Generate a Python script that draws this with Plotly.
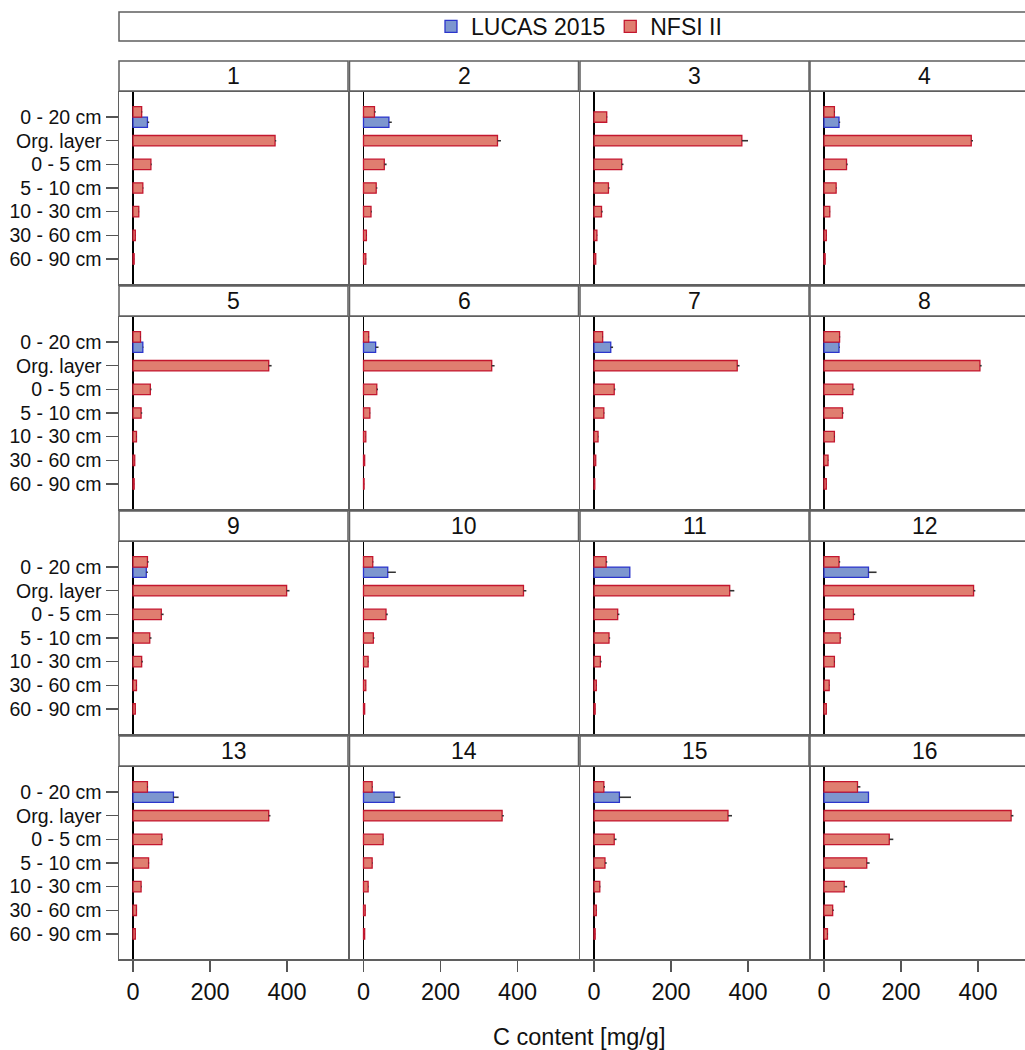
import plotly.graph_objects as go

# ---------------- data ----------------
categories = ["0 - 20 cm", "Org. layer", "0 - 5 cm", "5 - 10 cm",
              "10 - 30 cm", "30 - 60 cm", "60 - 90 cm"]
panel_labels = [str(i) for i in range(1, 17)]

nfsi_mean = [
    [22.5, 369, 46.5, 25.5, 15, 6, 3],
    [28.5, 348, 54, 33, 19.5, 7.5, 6],
    [33, 384, 72, 37.5, 19.5, 7.5, 4.5],
    [27, 382.5, 58.5, 31.5, 15, 6, 3],
    [19.5, 352.5, 45, 21, 9, 4.5, 3],
    [13.5, 333, 34.5, 16.5, 6, 3, 1.5],
    [22.5, 372, 52.5, 25.5, 10.5, 4.5, 2],
    [40.5, 405, 75, 48, 27, 10.5, 6],
    [37.5, 399, 73.5, 43.5, 22.5, 9, 6],
    [24, 415.5, 58.5, 25.5, 12, 6, 3],
    [31.5, 352.5, 61.5, 39, 16.5, 6, 3],
    [39, 388.5, 76.5, 42, 27, 13.5, 6],
    [37.5, 352.5, 75, 40.5, 21, 9, 6],
    [22.5, 360, 51, 22.5, 12, 4.5, 3],
    [25.5, 348, 52.5, 28.5, 15, 6, 3],
    [87, 486, 169.5, 111, 52.5, 22.5, 9],
]
nfsi_err = [
    [1.5, 3, 2, 1.5, 1, 0.5, 0.5],
    [3, 9, 6, 3, 2, 1, 1],
    [1.5, 16, 4.5, 3, 3, 1, 0.5],
    [1.5, 4.5, 3, 1.5, 1, 0.5, 0.5],
    [1, 7.5, 3, 3, 1, 0.5, 0.5],
    [1, 7.5, 3, 1, 0.5, 0.5, 0.5],
    [1, 6, 3, 1.5, 1, 0.5, 0.5],
    [1.5, 4.5, 4.5, 3, 1.5, 1, 0.5],
    [3, 7.5, 6, 4.5, 3, 1, 0.5],
    [1.5, 7.5, 4.5, 3, 1, 0.5, 0.5],
    [3, 12, 4.5, 3, 3, 1, 0.5],
    [3, 4.5, 4.5, 3, 1.5, 1, 0.5],
    [1.5, 4.5, 3, 1.5, 1.5, 0.5, 0.5],
    [1.5, 4.5, 1.5, 1.5, 1, 0.5, 0.5],
    [3, 10.5, 6, 4.5, 1.5, 1, 0.5],
    [7.5, 6, 10.5, 7.5, 7.5, 3, 1.5],
]
lucas_mean = [37.5, 66, None, 39, 25.5, 31.5, 43.5, 39,
              34.5, 63, 93, 115.5, 105, 79.5, 66, 115.5]
lucas_err = [4.5, 7.5, None, 3, 1.5, 7.5, 6, 2,
             4, 21, 0, 21, 13.5, 16.5, 30, 0]

x_ticks = [0, 200, 400]

# ---------------- styling / layout ----------------
W, H = 1025, 1050
FONT = "Arial, Liberation Sans, sans-serif"
RED_FILL, RED_LINE = "#E07E70", "#C3162E"
BLUE_FILL, BLUE_LINE = "#7D96CF", "#2B35CC"
BORDER = "#5f5f5f"

col_left = [119, 349.5, 580, 810]
col_w = [229, 229, 229, W - 810]
row_top = [92, 317, 542, 767]
row_h = 192
zero_off = 14          # px from panel left to x=0
ppu = 77 / 200         # pixels per data unit
bar_w = 0.44

def fx(p):
    return p / W

def fy(p):
    return 1 - p / H

fig = go.Figure()
shapes = []
annotations = []

for k in range(16):
    r, c = divmod(k, 4)
    idx = k + 1
    xa = "x" if idx == 1 else f"x{idx}"
    ya = "y" if idx == 1 else f"y{idx}"
    has_lucas = lucas_mean[k] is not None

    if has_lucas:
        fig.add_trace(go.Bar(
            x=[lucas_mean[k]], y=[categories[0]], orientation="h",
            width=[bar_w], offset=[0],
            marker=dict(color=BLUE_FILL, line=dict(color=BLUE_LINE, width=1.3)),
            error_x=dict(type="data", symmetric=False, array=[lucas_err[k]],
                         arrayminus=[0], color="#333", thickness=1.6, width=0),
            name="LUCAS 2015", legendgroup="lucas", showlegend=(k == 0),
            legendrank=1, xaxis=xa, yaxis=ya))

    offsets = [(-bar_w if (i == 0 and has_lucas) else -bar_w / 2)
               for i in range(len(categories))]
    fig.add_trace(go.Bar(
        x=nfsi_mean[k], y=categories, orientation="h",
        width=[bar_w] * len(categories), offset=offsets,
        marker=dict(color=RED_FILL, line=dict(color=RED_LINE, width=1.3)),
        error_x=dict(type="data", symmetric=False, array=nfsi_err[k],
                     arrayminus=[0] * len(categories), color="#333",
                     thickness=1.6, width=0),
        name="NFSI II", legendgroup="nfsi", showlegend=(k == 0),
        legendrank=2, xaxis=xa, yaxis=ya))

    left = col_left[c]
    w = col_w[c]
    top = row_top[r]
    x0 = fx(left)
    x1 = min(1.0, fx(left + w))
    y1 = fy(top)
    y0 = fy(top + row_h)

    xr = [-zero_off / ppu, (w - zero_off) / ppu]
    bottom_row = (r == 3)
    xkey = "xaxis" if idx == 1 else f"xaxis{idx}"
    ykey = "yaxis" if idx == 1 else f"yaxis{idx}"
    fig.layout[xkey] = dict(
        domain=[x0, x1], anchor=ya, range=xr, fixedrange=True,
        showgrid=False, zeroline=True, zerolinecolor="#000", zerolinewidth=1.2,
        showline=True, linecolor=BORDER, linewidth=1.5, mirror=True,
        tickvals=x_ticks, ticktext=[str(v) for v in x_ticks],
        showticklabels=bottom_row, ticks="outside" if bottom_row else "",
        ticklen=11, tickcolor="#555", tickwidth=1.2,
        tickfont=dict(family=FONT, size=23.5, color="#111"))
    fig.layout[ykey] = dict(
        domain=[y0, y1], anchor=xa, type="category",
        categoryorder="array", categoryarray=categories,
        range=[len(categories) - 1 + 1.06, -1.06], fixedrange=True,
        showgrid=False, zeroline=False,
        showline=True, linecolor=BORDER, linewidth=1.5, mirror=(c != 3),
        showticklabels=(c == 0), ticks="outside" if c == 0 else "",
        ticklen=12, tickcolor="#555", tickwidth=1.2,
        tickfont=dict(family=FONT, size=19.5, color="#111"))

    # strip header
    s_top = top - 31
    s_bot = top - 1
    shapes.append(dict(type="rect", xref="paper", yref="paper",
                       x0=fx(left), x1=fx(left + 229), y0=fy(s_bot), y1=fy(s_top),
                       line=dict(color=BORDER, width=1.5), fillcolor="white",
                       layer="below"))
    annotations.append(dict(text=panel_labels[k], xref="paper", yref="paper",
                            x=fx(left + 229 / 2), y=fy((s_top + s_bot) / 2),
                            xanchor="center", yanchor="middle", showarrow=False,
                            font=dict(family=FONT, size=23, color="#111")))

# legend frame
shapes.append(dict(type="rect", xref="paper", yref="paper",
                   x0=fx(119), x1=fx(1039), y0=fy(41), y1=fy(12),
                   line=dict(color=BORDER, width=1.5), fillcolor="rgba(0,0,0,0)"))

# x-axis title
annotations.append(dict(text="C content [mg/g]", xref="paper", yref="paper",
                        x=fx(579), y=fy(1037), xanchor="center", yanchor="middle",
                        showarrow=False, font=dict(family=FONT, size=23.5, color="#111")))

fig.update_layout(
    width=W, height=H, margin=dict(l=0, r=0, t=0, b=0),
    paper_bgcolor="white", plot_bgcolor="white",
    barmode="overlay", bargap=0,
    shapes=shapes, annotations=annotations,
    legend=dict(orientation="h", x=fx(579), xanchor="center",
                y=fy(26.5), yanchor="middle", bgcolor="rgba(0,0,0,0)",
                font=dict(family=FONT, size=23, color="#111"),
                traceorder="normal", itemclick=False),
    font=dict(family=FONT),
)

fig.write_html(
    "out.html",
    config={"displayModeBar": False, "staticPlot": True},
    post_script="document.body.style.margin='0';document.body.style.overflow='hidden';",
)
